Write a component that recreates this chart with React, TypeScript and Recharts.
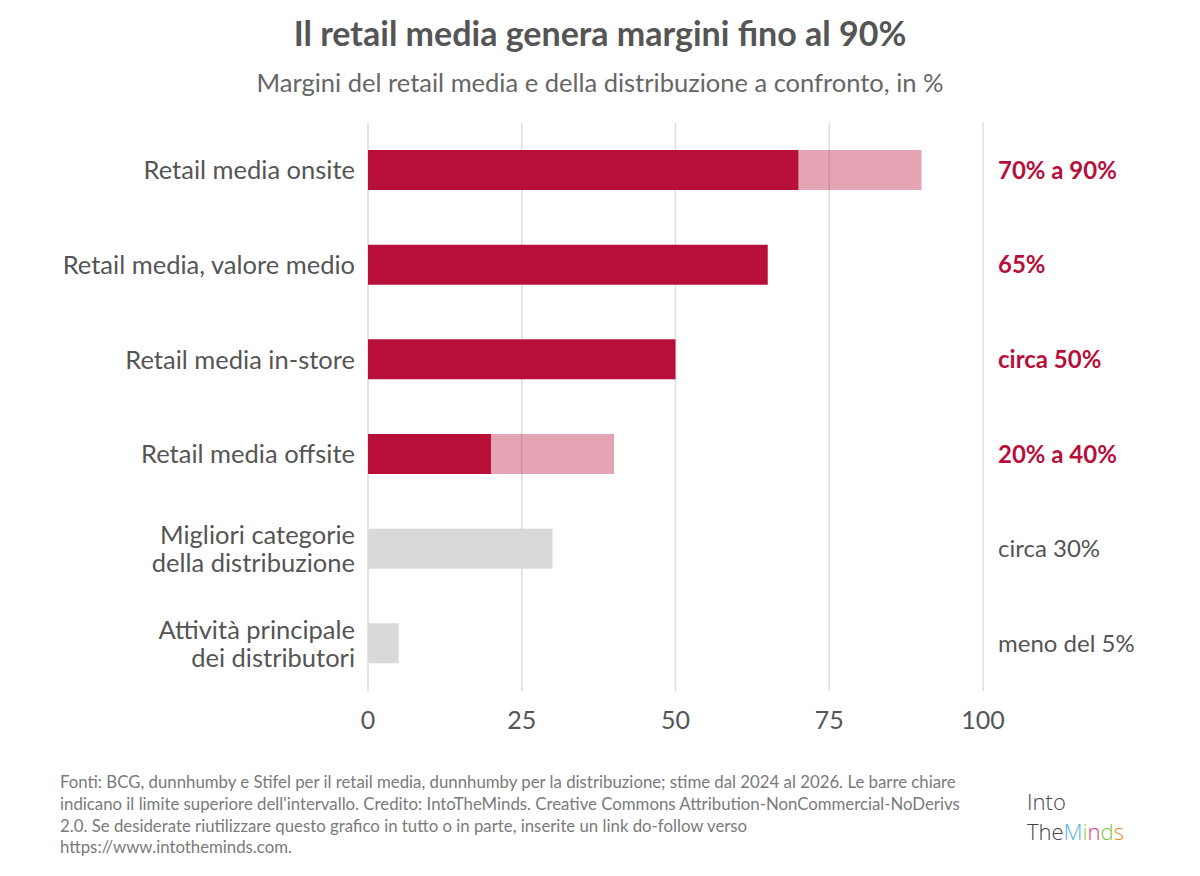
import React from "react";
import {
  BarChart, Bar, XAxis, YAxis, CartesianGrid, Cell,
} from "recharts";

const categories = [
  "Retail media onsite",
  "Retail media, valore medio",
  "Retail media in-store",
  "Retail media offsite",
  "Migliori categorie\ndella distribuzione",
  "Attività principale\ndei distributori",
];
// lower bound (solid part) and extra up to the upper bound (light part)
const lowValues = [70, 65, 50, 20, 30, 5];
const extraValues = [20, 0, 0, 20, 0, 0];
const notes = ["70% a 90%", "65%", "circa 50%", "20% a 40%", "circa 30%", "meno del 5%"];
const retailMedia = [true, true, true, true, false, false];
const xTicks = [0, 25, 50, 75, 100];

const RED = "#b80f3a";
const GREY = "#d9d9d9";
const TEXT = "#555555";

const data = categories.map((c, i) => ({
  name: c,
  note: notes[i],
  low: lowValues[i],
  extra: extraValues[i],
  retail: retailMedia[i],
}));

const FONT = "Lato, 'Open Sans', sans-serif";

function LeftTick(props: any) {
  const { x, y, payload } = props;
  const lines = String(payload.value).split("\n");
  const lh = 28;
  const start = y - ((lines.length - 1) * lh) / 2;
  return (
    <text x={x} textAnchor="end" fill={TEXT} fontSize={25.5} fontFamily={FONT}>
      {lines.map((l, i) => (
        <tspan key={i} x={x} y={start + i * lh} dy="0.35em">{l}</tspan>
      ))}
    </text>
  );
}

function RightTick(props: any) {
  const { x, y, payload, index } = props;
  const hot = data[index]?.retail;
  return (
    <text
      x={x}
      y={y}
      dy="0.35em"
      textAnchor="start"
      fill={hot ? RED : TEXT}
      fontWeight={hot ? 700 : 400}
      fontSize={24}
      fontFamily={FONT}
    >
      {payload.value}
    </text>
  );
}

export default function App() {
  return (
    <div style={{ position: "absolute", left: 0, top: 0, width: 1200, height: 876, background: "#fff", fontFamily: FONT }}>
      <div style={{ position: "absolute", top: 12, width: 1200, textAlign: "center", fontSize: 34, fontWeight: 700, color: TEXT }}>
        Il retail media genera margini fino al 90%
      </div>
      <div style={{ position: "absolute", top: 67, width: 1200, textAlign: "center", fontSize: 25.5, color: "#666" }}>
        Margini del retail media e della distribuzione a confronto, in %
      </div>

      <div style={{ position: "absolute", left: 0, top: 0 }}>
        <BarChart
          width={1200}
          height={876}
          data={data}
          layout="vertical"
          margin={{ top: 123, right: 0, bottom: 155, left: 0 }}
          barSize={40}
        >
          <CartesianGrid horizontal={false} stroke="#dddddd" strokeWidth={1.5} />
          <XAxis
            type="number"
            domain={[0, 100]}
            ticks={xTicks}
            axisLine={false}
            tickLine={false}
            tickMargin={14}
            height={30}
            tick={{ fill: TEXT, fontSize: 25, fontFamily: FONT }}
          />
          <YAxis
            type="category"
            dataKey="name"
            width={368}
            axisLine={false}
            tickLine={false}
            tickSize={0}
            tickMargin={13}
            tick={<LeftTick />}
            interval={0}
          />
          <YAxis
            yAxisId="r"
            orientation="right"
            type="category"
            dataKey="note"
            width={217}
            axisLine={false}
            tickLine={false}
            tickSize={0}
            tickMargin={15}
            tick={<RightTick />}
            interval={0}
          />
          <Bar dataKey="low" stackId="a" isAnimationActive={false}>
            {data.map((d, i) => (
              <Cell key={i} fill={d.retail ? RED : GREY} />
            ))}
          </Bar>
          <Bar dataKey="extra" stackId="a" fill={RED} fillOpacity={0.38} isAnimationActive={false} />
        </BarChart>
      </div>

      <div style={{ position: "absolute", left: 60, top: 771, width: 940, fontSize: 16.8, lineHeight: "21.8px", color: "#7a7a7a" }}>
        Fonti: BCG, dunnhumby e Stifel per il retail media, dunnhumby per la distribuzione; stime dal 2024 al 2026. Le barre chiare<br />
        indicano il limite superiore dell'intervallo. Credito: IntoTheMinds. Creative Commons Attribution-NonCommercial-NoDerivs<br />
        2.0. Se desiderate riutilizzare questo grafico in tutto o in parte, inserite un link do-follow verso<br />
        https://www.intotheminds.com.
      </div>

      <div style={{ position: "absolute", left: 1027, top: 786, fontSize: 22, lineHeight: "30px", color: "#444", fontFamily: "'Open Sans', sans-serif", fontWeight: 300 }}>
        <div>Into</div>
        <div>
          The<span style={{ color: "#5ab4e5" }}>M</span>
          <span style={{ color: "#9acd32" }}>i</span>
          <span style={{ color: "#e0338a" }}>n</span>
          <span style={{ color: "#7cc242" }}>d</span>
          <span style={{ color: "#f08a24" }}>s</span>
        </div>
      </div>
    </div>
  );
}
